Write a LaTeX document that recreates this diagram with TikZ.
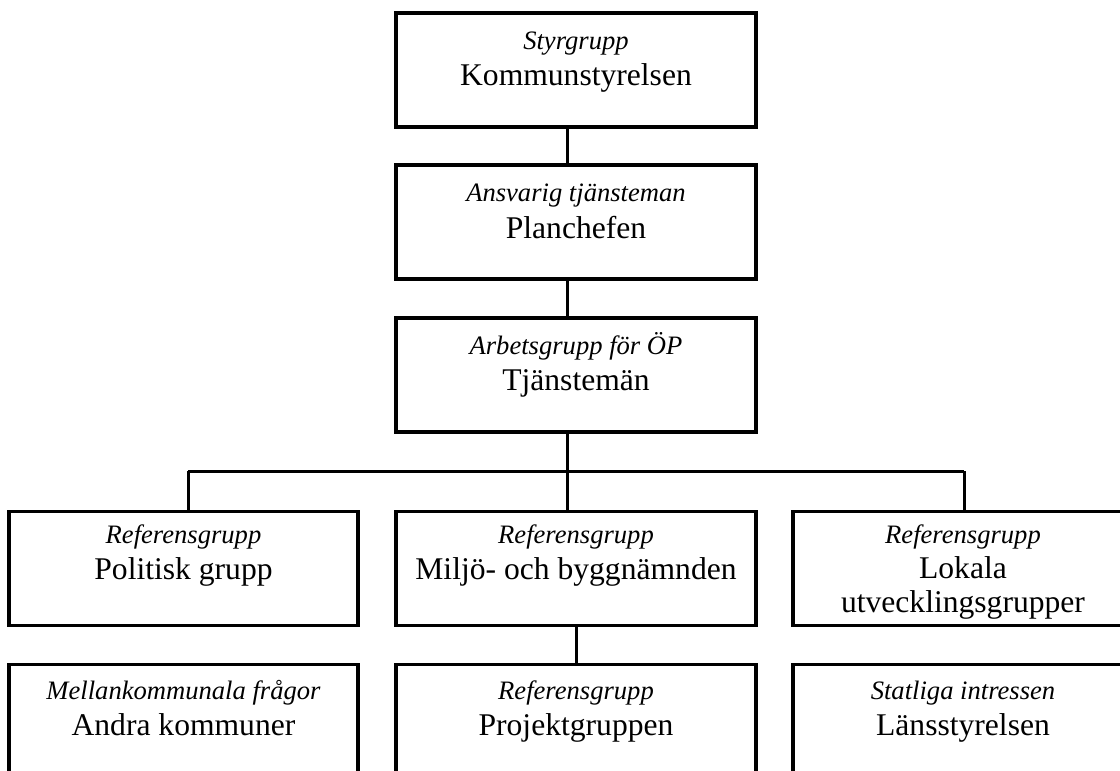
\documentclass[tikz,border=0pt]{standalone}
\usepackage{fontspec}
\setmainfont{Liberation Serif}
\begin{document}
\begin{tikzpicture}[x=0.5pt,y=-0.5pt,
  box/.style={draw=black, line width=1.6pt, rectangle, inner sep=0pt, outer sep=0pt},
  wide/.style={minimum width=180pt},
  tall/.style={minimum height=57pt},
  conn/.style={draw=black, line width=1.5pt},
  it/.style={font=\fontsize{13.3pt}{16pt}\selectfont\itshape, inner sep=0pt, anchor=base},
  mn/.style={font=\fontsize{15.8pt}{19pt}\selectfont, inner sep=0pt, anchor=base}]
\useasboundingbox (0,0) rectangle (1120,771);
\clip (0,0) rectangle (1120,771);
\fill[white] (0,0) rectangle (1120,771);
% boxes
\node[box, wide, tall] (ks) at (576,70) {};
\node[box, wide, tall] (pc) at (576,222) {};
\node[box, wide, tall] (tj) at (576,375) {};
\node[box, tall, minimum width=174.5pt] (pol) at (183.5,568.5) {};
\node[box, wide, tall] (mil) at (576,568.5) {};
\node[box, tall, minimum width=170pt] (lok) at (963,568.5) {};
\node[box, tall, minimum width=174.5pt] (and) at (183.5,721.5) {};
\node[box, wide, tall] (prj) at (576,721.5) {};
\node[box, tall, minimum width=170pt] (lan) at (963,721.5) {};
% texts
\node[it] (t1a) at (576,49) {Styrgrupp};
\node[mn] (t1b) at (576,85) {Kommunstyrelsen};
\node[it] (t2a) at (576,201) {Ansvarig tjänsteman};
\node[mn] (t2b) at (576,238) {Planchefen};
\node[it] (t3a) at (576,354) {Arbetsgrupp för ÖP};
\node[mn] (t3b) at (576,390) {Tjänstemän};
\node[it] (t4a) at (183.5,543) {Referensgrupp};
\node[mn] (t4b) at (183.5,579) {Politisk grupp};
\node[it] (t5a) at (576,543) {Referensgrupp};
\node[mn] (t5b) at (576,579) {Miljö- och byggnämnden};
\node[it] (t6a) at (963,543) {Referensgrupp};
\node[mn] (t6b) at (963,578) {Lokala};
\node[mn] (t6c) at (963,612) {utvecklingsgrupper};
\node[it] (t7a) at (183.5,699) {Mellankommunala frågor};
\node[mn] (t7b) at (183.5,735) {Andra kommuner};
\node[it] (t8a) at (576,699) {Referensgrupp};
\node[mn] (t8b) at (576,735) {Projektgruppen};
\node[it] (t9a) at (963,699) {Statliga intressen};
\node[mn] (t9b) at (963,735) {Länsstyrelsen};
% connectors
\coordinate (j) at (567,471);
\coordinate (jl) at (188,471);
\coordinate (jr) at (964,471);
\draw[conn] ([xshift=-4.5pt]ks.south) -- ([xshift=-4.5pt]pc.north);
\draw[conn] ([xshift=-4.5pt]pc.south) -- ([xshift=-4.5pt]tj.north);
\draw[conn] ([xshift=-4.5pt]tj.south) -- (j);
\draw[conn] (jl) -- (jr);
\draw[conn] (j) -- (j |- mil.north);
\draw[conn] (jl) -- (jl |- pol.north);
\draw[conn] (jr) -- (jr |- lok.north);
\draw[conn] (mil.south) -- (prj.north);
\end{tikzpicture}
\end{document}
